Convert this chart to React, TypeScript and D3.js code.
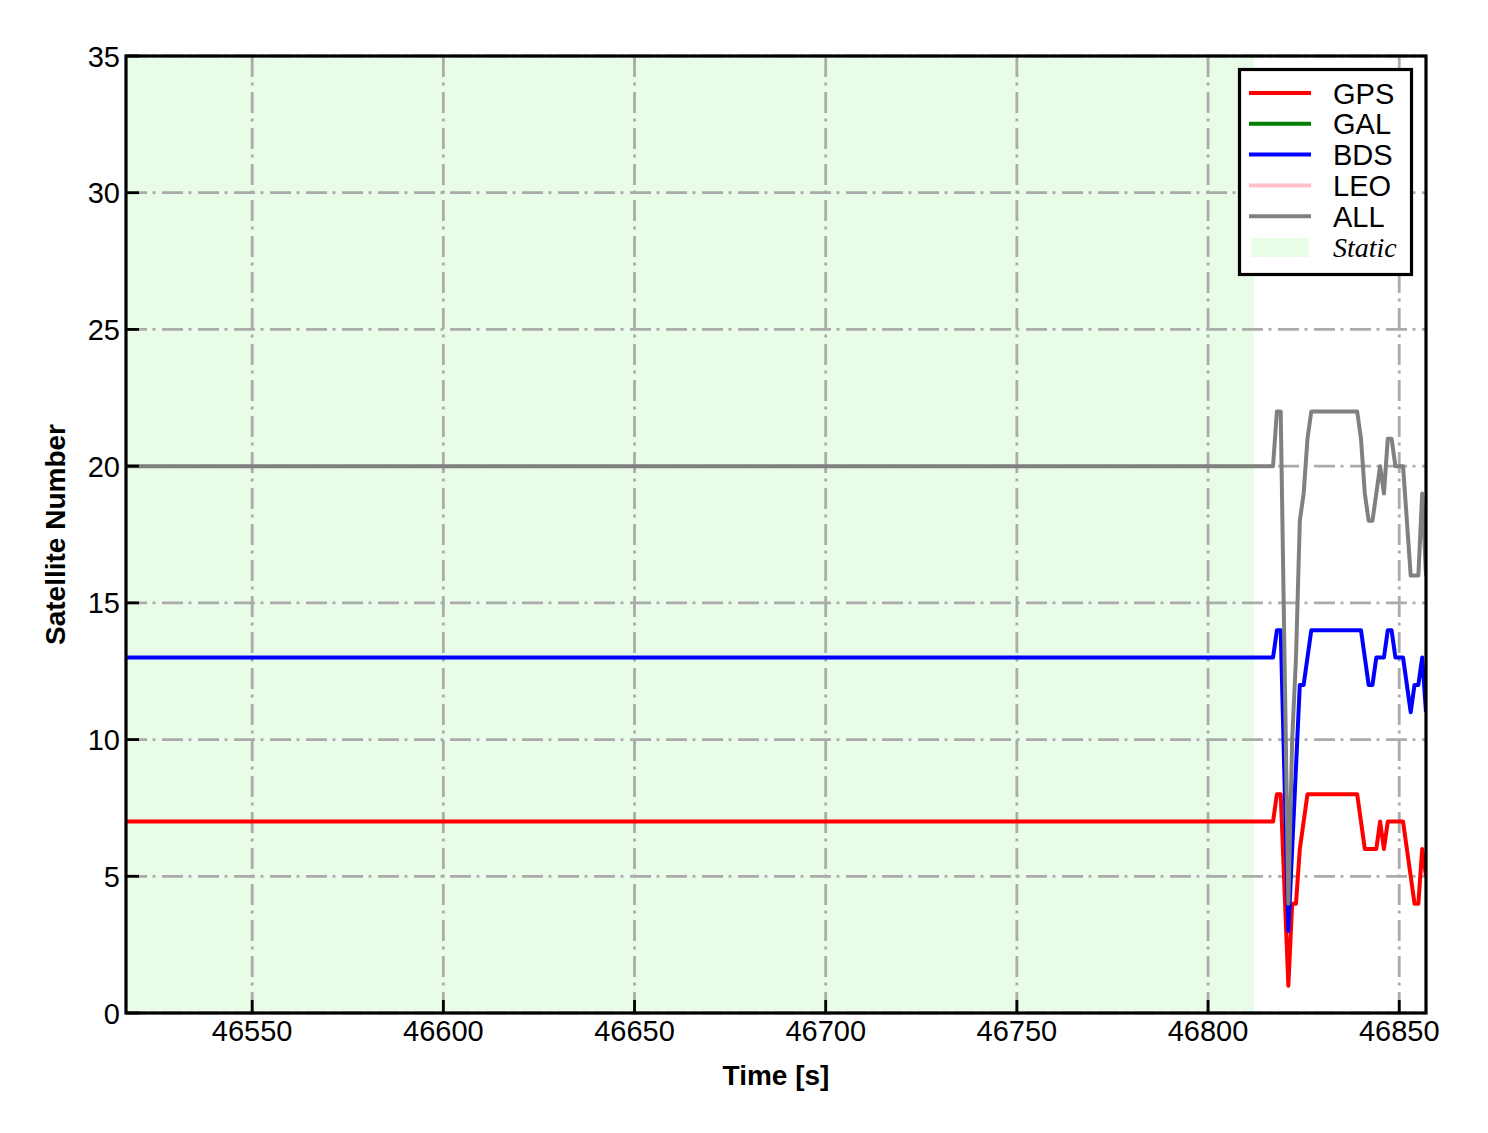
import React from "react";
import * as d3 from "d3";

// ---- data ----
const times = [46517, 46817, 46818, 46819, 46821, 46822, 46823, 46824, 46825, 46826, 46827, 46839, 46840, 46841, 46842, 46843, 46844, 46845, 46846, 46847, 46848, 46849, 46850, 46851, 46852, 46853, 46854, 46855, 46856, 46857];
const gps = [7, 7, 8, 8, 1, 4, 4, 6, 7, 8, 8, 8, 7, 6, 6, 6, 6, 7, 6, 7, 7, 7, 7, 7, 6, 5, 4, 4, 6, 5];
const bds = [13, 13, 14, 14, 3, 6, 9, 12, 12, 13, 14, 14, 14, 13, 12, 12, 13, 13, 13, 14, 14, 13, 13, 13, 12, 11, 12, 12, 13, 11];
const all = [20, 20, 22, 22, 4, 10, 13, 18, 19, 21, 22, 22, 21, 19, 18, 18, 19, 20, 19, 21, 21, 20, 20, 20, 18, 16, 16, 16, 19, 16];
const staticRange = [46517, 46812];
const xDomain = [46517, 46857];
const yDomain = [0, 35];
const xTicks = [46550, 46600, 46650, 46700, 46750, 46800, 46850];
const yTicks = [0, 5, 10, 15, 20, 25, 30, 35];
const legendItems = [
  { name: "GPS", color: "#ff0000" },
  { name: "GAL", color: "#008000" },
  { name: "BDS", color: "#0000ff" },
  { name: "LEO", color: "#ffc0cb" },
  { name: "ALL", color: "#808080" },
];

const W = 1488, H = 1133;
const L = 126, R = 1426, T = 56, B = 1013;
const FONT = "'Liberation Sans', Arial, sans-serif";
const STATIC_FILL = "#e8fce8";

export default function App() {
  const x = d3.scaleLinear().domain(xDomain).range([L, R]);
  const y = d3.scaleLinear().domain(yDomain).range([B, T]);
  const line = d3.line<number>().x((_, i) => x(times[i])).y((v) => y(v));
  const series = [
    { vals: gps, color: "#ff0000" },
    { vals: bds, color: "#0000ff" },
    { vals: all, color: "#808080" },
  ];
  const dash = "21,5.5,3,6.5";
  return (
    <svg width={W} height={H} style={{ position: "absolute", left: 0, top: 0, background: "#fff" }}>
      <defs>
        <clipPath id="plot">
          <rect x={L} y={T} width={R - L} height={B - T} />
        </clipPath>
      </defs>
      <rect x={x(staticRange[0])} y={T} width={x(staticRange[1]) - x(staticRange[0])} height={B - T} fill={STATIC_FILL} />
      {/* grid */}
      {xTicks.map((t) => (
        <line key={"gx" + t} x1={x(t)} x2={x(t)} y1={T} y2={B} stroke="#ababab" strokeWidth={2.8} strokeDasharray={dash} />
      ))}
      {yTicks.map((t) => (
        <line key={"gy" + t} x1={L} x2={R} y1={y(t)} y2={y(t)} stroke="#ababab" strokeWidth={2.8} strokeDasharray={dash} />
      ))}
      {/* lines */}
      <g clipPath="url(#plot)">
        {series.map((s, i) => (
          <path key={i} d={line(s.vals) || ""} fill="none" stroke={s.color} strokeWidth={4} strokeLinejoin="round" />
        ))}
      </g>
      {/* ticks */}
      {xTicks.map((t) => (
        <line key={"tx" + t} x1={x(t)} x2={x(t)} y1={B} y2={B - 13} stroke="#000" strokeWidth={2.8} />
      ))}
      {yTicks.map((t) => (
        <line key={"ty" + t} x1={L} x2={L + 13} y1={y(t)} y2={y(t)} stroke="#000" strokeWidth={2.8} />
      ))}
      {/* frame */}
      <rect x={L} y={T} width={R - L} height={B - T} fill="none" stroke="#000" strokeWidth={3.2} />
      {/* tick labels */}
      {xTicks.map((t) => (
        <text key={"lx" + t} x={x(t)} y={B + 28} textAnchor="middle" fontFamily={FONT} fontSize={29} fill="#000">{t}</text>
      ))}
      {yTicks.map((t) => (
        <text key={"ly" + t} x={120} y={y(t) + 10.5} textAnchor="end" fontFamily={FONT} fontSize={29} fill="#000">{t}</text>
      ))}
      <text x={(L + R) / 2} y={1085} textAnchor="middle" fontFamily={FONT} fontSize={28} fontWeight="bold">Time [s]</text>
      <text transform={`translate(65,${(T + B) / 2}) rotate(-90)`} textAnchor="middle" fontFamily={FONT} fontSize={28} fontWeight="bold">Satellite Number</text>
      {/* legend */}
      <rect x={1239.5} y={69.5} width={172} height={205} fill="#fff" stroke="#000" strokeWidth={3.2} />
      {legendItems.map((it, i) => {
        const cy = 93 + i * 30.8;
        return (
          <g key={it.name}>
            <line x1={1249} x2={1311} y1={cy} y2={cy} stroke={it.color} strokeWidth={4} />
            <text x={1333} y={cy + 10.5} fontFamily={FONT} fontSize={29}>{it.name}</text>
          </g>
        );
      })}
      <rect x={1251} y={238} width={58} height={19} fill={STATIC_FILL} />
      <text x={1333} y={257} fontFamily="'Liberation Serif', 'Times New Roman', serif" fontStyle="italic" fontSize={28}>Static</text>
    </svg>
  );
}
